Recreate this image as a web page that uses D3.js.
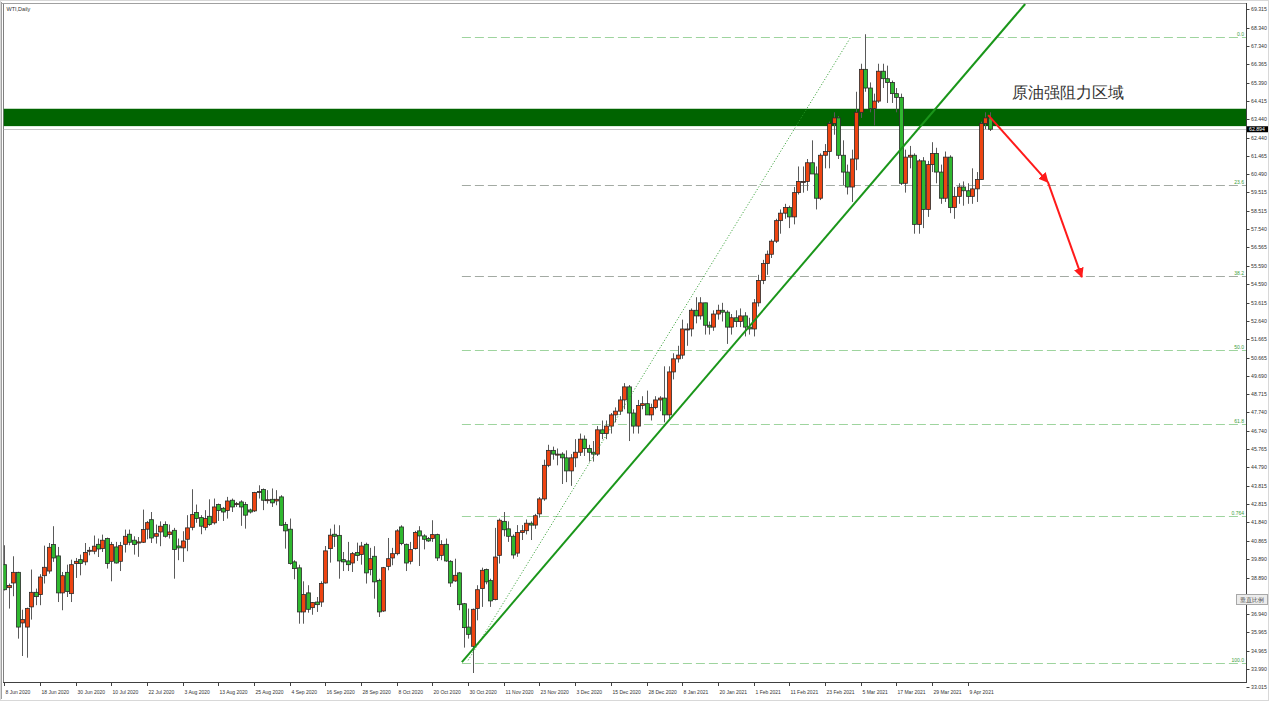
<!DOCTYPE html>
<html><head><meta charset="utf-8">
<script src="https://cdn.jsdelivr.net/npm/d3@7"></script>
<style>
html,body{margin:0;padding:0;background:#fff;}
svg{display:block;}
text{font-family:"Liberation Sans",Arial,sans-serif;}
</style></head>
<body>
<svg id="chart" width="1269" height="701"></svg>
<script>
// ---------------- DATA ----------------
const title = "WTI,Daily";
// daily candles, bar index 0 = 8 Jun 2020
const opens = [
39.58,38.35,38.60,39.17,36.46,36.24,37.32,38.10,37.98,38.99,
39.24,40.66,40.05,38.07,39.17,38.03,39.64,39.85,39.73,40.31,
40.30,40.67,40.44,40.98,39.76,40.53,39.76,40.67,41.21,40.89,
40.74,40.78,41.48,41.99,41.10,41.33,41.73,41.19,41.42,40.58,
40.48,40.94,41.58,42.37,42.10,41.58,42.17,41.82,42.80,42.60,
42.48,43.03,42.80,42.94,42.80,42.51,42.46,43.46,43.60,43.05,
43.08,42.99,43.21,41.73,41.48,39.73,39.41,37.05,38.07,37.28,
37.58,37.58,38.60,40.44,41.21,41.15,39.85,39.78,39.67,40.23,
40.12,40.67,39.32,40.03,38.74,37.10,39.49,39.94,40.17,41.60,
40.67,39.76,40.44,41.39,41.12,40.98,40.98,41.19,40.08,40.67,
39.76,38.71,39.14,37.49,36.24,35.21,37.23,38.30,39.32,38.74,
37.71,40.08,41.90,41.50,41.10,40.20,41.30,41.40,41.80,41.70,
42.30,43.10,44.90,45.70,45.50,45.50,45.30,44.60,45.30,45.60,
46.30,45.80,45.60,45.50,46.80,46.60,47.00,47.60,47.80,48.40,
49.10,47.70,47.00,48.10,48.20,47.60,48.00,48.40,48.50,47.60,
49.90,50.60,50.80,52.20,52.20,53.20,52.90,53.60,52.40,52.30,
53.00,53.20,53.10,52.30,52.80,52.60,52.90,52.30,52.20,53.60,
54.80,55.70,56.20,56.90,58.00,58.40,58.70,58.20,59.50,60.10,
60.10,61.10,60.50,59.20,61.50,61.70,63.20,63.50,61.50,60.60,
59.80,61.30,63.80,66.10,65.10,64.00,64.40,66.00,65.60,65.40,
64.80,64.60,60.00,61.40,61.50,57.80,61.20,58.60,61.00,61.60,
60.60,59.20,61.40,58.70,59.30,59.80,59.60,59.30,59.70,60.20,
63.20,63.50];
const highs = [
40.62,38.57,40.03,39.20,37.17,37.28,39.32,38.30,39.07,40.60,
40.74,41.64,40.53,39.19,39.58,39.85,39.94,40.12,40.74,40.53,
41.14,40.98,41.19,41.03,40.80,40.80,40.80,41.46,41.46,41.10,
41.06,42.53,41.92,42.40,41.73,41.90,41.90,41.73,41.55,40.98,
41.37,42.23,43.62,42.80,42.23,42.50,43.08,43.12,42.85,42.67,
43.21,43.12,42.94,43.03,42.94,42.58,43.48,43.83,43.66,43.57,
43.66,43.57,43.30,41.87,42.05,39.82,39.58,38.69,38.48,37.58,
37.85,38.69,40.58,41.51,41.73,41.69,40.26,40.80,40.26,40.76,
40.80,40.76,40.48,40.57,38.83,39.46,41.01,40.48,41.48,41.69,
40.71,40.80,41.39,41.64,41.21,41.06,41.96,41.24,40.89,40.98,
39.82,39.90,39.19,37.53,37.23,37.23,38.48,39.42,39.37,38.83,
41.55,42.05,42.40,41.90,41.20,41.70,41.70,42.00,41.90,42.30,
43.20,45.20,46.00,45.90,45.80,45.60,45.70,45.50,46.30,46.60,
46.50,46.00,46.20,47.00,47.30,47.30,47.70,48.00,48.60,49.30,
49.20,47.90,48.40,48.60,48.90,48.20,48.60,48.60,50.20,50.20,
50.90,51.30,52.70,52.50,53.30,53.90,53.90,53.60,52.60,53.20,
53.50,53.60,53.20,53.00,53.20,53.30,53.10,52.80,53.80,55.10,
55.90,56.40,57.00,58.10,58.60,58.90,58.80,59.80,60.90,60.90,
61.30,62.30,60.90,61.60,62.10,63.30,63.80,63.60,62.30,61.00,
61.80,64.90,66.40,67.98,65.40,64.80,66.40,66.40,66.30,65.50,
65.10,64.80,61.80,62.00,61.60,61.30,61.40,61.20,62.20,61.90,
61.00,61.70,61.50,59.80,60.00,60.10,60.00,60.80,60.60,63.30,
63.80,63.80];
const lows = [
38.20,37.23,37.89,35.62,34.69,34.60,36.64,37.41,37.41,38.57,
39.10,39.73,37.58,37.14,37.85,37.58,38.87,39.01,39.55,40.08,
40.14,39.99,40.26,39.37,38.69,39.64,39.24,40.23,40.62,40.12,
40.00,40.74,40.94,40.74,40.71,40.57,41.03,40.98,38.83,39.82,
39.73,40.30,41.42,41.82,41.21,41.42,41.66,41.73,41.92,41.92,
42.05,42.40,42.67,41.66,41.51,42.32,42.40,43.12,42.50,42.85,
42.67,42.76,41.66,40.44,39.58,38.80,36.42,36.42,37.01,36.90,
37.05,37.32,38.57,39.69,40.53,38.83,39.24,39.24,39.19,39.78,
39.58,38.57,39.01,37.76,36.78,37.05,39.28,39.55,40.08,40.62,
39.24,39.60,40.39,39.51,40.40,40.80,40.80,39.78,39.82,39.73,
38.39,38.66,37.14,35.14,35.62,33.78,36.60,37.32,38.53,37.32,
37.67,39.64,41.10,40.80,39.90,40.00,40.90,41.20,40.90,41.50,
42.10,43.00,44.80,45.20,44.90,43.90,44.00,43.80,44.80,45.40,
45.40,45.10,45.10,45.40,46.30,46.30,46.60,47.20,47.60,47.90,
46.20,46.60,46.60,47.90,47.60,47.30,47.90,47.80,47.20,47.30,
49.50,50.40,50.60,51.30,51.80,52.50,52.70,51.90,51.90,52.10,
52.70,52.60,51.40,51.90,52.30,52.30,51.80,51.90,51.80,53.40,
54.60,55.10,56.00,56.80,57.30,58.10,57.60,57.80,59.40,59.50,
59.60,60.60,58.60,59.10,60.80,60.80,62.60,61.30,59.90,59.40,
59.00,60.70,63.50,64.90,63.80,63.10,64.30,65.10,64.30,64.30,
63.80,59.90,59.50,60.80,57.30,57.30,57.60,58.20,60.60,60.00,
58.90,59.00,58.40,58.10,58.90,58.80,58.90,58.90,59.00,60.20,
62.90,62.80];
const closes = [
38.24,38.46,39.17,36.24,36.64,37.24,38.10,37.87,38.92,39.44,
40.51,39.94,38.07,38.99,38.14,39.58,39.76,39.64,40.23,40.35,
40.57,40.42,40.89,39.64,40.66,39.67,40.60,41.10,40.78,40.66,
40.80,41.46,41.83,41.01,41.24,41.64,41.10,41.33,40.39,40.48,
40.85,41.55,42.26,42.05,41.64,42.05,41.73,42.67,42.48,42.40,
42.99,42.67,42.85,42.67,42.23,42.40,43.44,43.50,43.03,43.06,
42.89,43.08,41.69,41.39,39.64,39.37,37.05,37.98,37.19,37.55,
37.44,38.57,40.32,41.16,41.10,39.78,39.73,39.58,40.17,40.07,
40.58,39.14,39.90,38.66,37.05,39.42,39.90,40.17,41.39,40.71,
39.67,40.39,41.30,41.12,40.94,40.85,41.19,39.94,40.66,39.78,
38.60,39.01,37.44,36.21,35.85,37.19,38.24,39.28,38.66,37.64,
39.99,41.96,41.45,41.10,40.10,41.30,41.40,41.80,41.70,42.20,
43.10,44.90,45.70,45.50,45.50,45.30,44.60,45.30,45.60,46.30,
45.80,45.60,45.50,46.80,46.60,47.00,47.60,47.80,48.40,49.10,
47.70,47.00,48.10,48.20,47.60,48.00,48.40,48.50,47.60,49.90,
50.60,50.80,52.20,52.20,53.20,52.90,53.60,52.40,52.30,53.00,
53.20,53.10,52.30,52.80,52.60,52.90,52.30,52.20,53.60,54.80,
55.70,56.20,56.90,58.00,58.40,58.70,58.20,59.50,60.10,60.10,
61.10,60.50,59.20,61.50,61.70,63.20,63.50,61.50,60.60,59.80,
61.30,63.80,66.10,65.10,64.00,64.40,66.00,65.60,65.40,64.80,
64.60,60.00,61.40,61.50,57.80,61.20,58.60,61.00,61.60,60.60,
59.20,61.40,58.70,59.30,59.80,59.60,59.30,59.70,60.20,63.20,
63.50,62.894];

// date axis labels, one every 8 bars
const dateLabels = ["8 Jun 2020","18 Jun 2020","30 Jun 2020","10 Jul 2020","22 Jul 2020","3 Aug 2020","13 Aug 2020","25 Aug 2020","4 Sep 2020","16 Sep 2020","28 Sep 2020","8 Oct 2020","20 Oct 2020","30 Oct 2020","11 Nov 2020","23 Nov 2020","3 Dec 2020","15 Dec 2020","28 Dec 2020","8 Jan 2021","20 Jan 2021","1 Feb 2021","11 Feb 2021","23 Feb 2021","5 Mar 2021","17 Mar 2021","29 Mar 2021","9 Apr 2021"];
const dateStep = 8;
// price axis labels
const priceLabels = [69.315,68.340,67.340,66.365,65.390,64.415,63.440,62.440,61.465,60.490,59.515,58.515,57.540,56.565,55.590,54.590,53.615,52.640,51.665,50.665,49.690,48.715,47.740,46.740,45.765,44.790,43.815,42.815,41.840,40.865,39.890,38.890,37.915,36.940,35.965,34.965,33.990,33.015];
const lastPrice = 62.894;

// annotations (bar index, price)
const resistanceZone = [63.06, 63.99];
const zoneLabel = "原油强阻力区域";
const fibHigh = 67.83, fibLow = 34.30, fibStartIndex = 102.6;
const fibRatios = [0, 0.236, 0.382, 0.5, 0.618, 0.764, 1.0];
const fibLabels = ["0.0","23.6","38.2","50.0","61.8","0.764","100.0"];
const trendLine = [[102.6, 34.36],[228.9, 69.60]];
const dottedLine = [[104.0, 34.46],[189.8, 67.83]];
const arrowPath = [[220.6, 63.65],[234.0, 60.06],[241.6, 54.98]];

// ---------------- LAYOUT ----------------
const W = 1269, H = 701;
const plot = {left: 3.5, right: 1246, top: 3.5, bottom: 682};
const svg = d3.select("#chart");

const x = d3.scaleLinear().domain([0, 221]).range([4.3, 4.3 + 221 * 4.46]);
const y = d3.scaleLinear().domain([33.015, 69.315]).range([687.3, 9.3]);

// window frame
svg.append("rect").attr("x",0).attr("y",0).attr("width",W).attr("height",H).attr("fill","#fff");
svg.append("rect").attr("x",0.5).attr("y",0.5).attr("width",W-1).attr("height",H-1).attr("fill","none").attr("stroke","#d8d8d8");
svg.append("line").attr("x1",1.5).attr("x2",1.5).attr("y1",2).attr("y2",H-2).attr("stroke","#a0a0a0");
svg.append("line").attr("x1",3.5).attr("x2",3.5).attr("y1",3).attr("y2",plot.bottom).attr("stroke","#808080");
svg.append("line").attr("x1",1).attr("x2",plot.right).attr("y1",3.5).attr("y2",3.5).attr("stroke","#a0a0a0");

svg.append("defs").append("clipPath").attr("id","clip")
  .append("rect").attr("x",plot.left).attr("y",plot.top).attr("width",plot.right-plot.left).attr("height",plot.bottom-plot.top);
svg.select("defs").append("marker").attr("id","arrow").attr("viewBox","0 0 10 10")
  .attr("refX",9).attr("refY",5).attr("markerWidth",5).attr("markerHeight",5).attr("orient","auto")
  .append("path").attr("d","M0,0 L10,5 L0,10 z").attr("fill","#ff1a1a");

const g = svg.append("g").attr("clip-path","url(#clip)");

// title
svg.append("text").attr("x",6.5).attr("y",11).attr("font-size",5.5).attr("fill","#333").text(title);

// fib dashed levels
const fibY = r => y(fibHigh - r * (fibHigh - fibLow));
fibRatios.forEach((r, i) => {
  const yy = Math.round(fibY(r)) + 0.5;
  g.append("line").attr("x1", x(fibStartIndex)).attr("x2", plot.right).attr("y1", yy).attr("y2", yy)
    .attr("stroke", (i===1||i===2) ? "#a3aaa3" : "#9ed49e").attr("stroke-width",1).attr("stroke-dasharray","9,4");
  g.append("text").attr("x", plot.right - 2).attr("y", yy - 1.5).attr("text-anchor","end")
    .attr("font-size",5).attr("fill","#3d9e3d").text(fibLabels[i]);
});

// resistance band
g.append("rect").attr("x",plot.left).attr("width",plot.right-plot.left)
  .attr("y", y(resistanceZone[1])).attr("height", y(resistanceZone[0]) - y(resistanceZone[1]))
  .attr("fill","#006400");
// last price line
g.append("line").attr("x1",plot.left).attr("x2",plot.right)
  .attr("y1",Math.round(y(lastPrice))+0.5).attr("y2",Math.round(y(lastPrice))+0.5).attr("stroke","#c8c8c8");

// candles
const bars = d3.range(opens.length).map(i => ({i, o: opens[i], h: highs[i], l: lows[i], c: closes[i]}));
const bw = 3;
const cg = g.append("g");
cg.selectAll("line.wick").data(bars).join("line").attr("class","wick")
  .attr("x1", d => Math.round(x(d.i)) + 0.5).attr("x2", d => Math.round(x(d.i)) + 0.5)
  .attr("y1", d => y(d.h)).attr("y2", d => y(d.l)).attr("stroke","#5a5a5a").attr("stroke-width",1);
cg.selectAll("rect.body").data(bars).join("rect").attr("class","body")
  .attr("x", d => Math.round(x(d.i)) + 0.5 - bw/2 - 0.5)
  .attr("y", d => y(Math.max(d.o, d.c)))
  .attr("width", bw + 1)
  .attr("height", d => Math.max(1, Math.abs(y(d.o) - y(d.c))))
  .attr("fill", d => d.c >= d.o ? "#ee4411" : "#2fb82f")
  .attr("stroke","#2a2a2a").attr("stroke-width",0.8);

// trend lines
const lineGen = d3.line().x(d => x(d[0])).y(d => y(d[1]));
g.append("path").attr("d", lineGen(dottedLine)).attr("fill","none")
  .attr("stroke","#2a9a2a").attr("stroke-width",1).attr("stroke-dasharray","1,2");
g.append("path").attr("d", lineGen(trendLine)).attr("fill","none")
  .attr("stroke","#1a961a").attr("stroke-width",2);

// red arrows
for (let k = 0; k < arrowPath.length - 1; k++) {
  svg.append("line").attr("x1", x(arrowPath[k][0])).attr("y1", y(arrowPath[k][1]))
    .attr("x2", x(arrowPath[k+1][0])).attr("y2", y(arrowPath[k+1][1]))
    .attr("stroke","#ff1a1a").attr("stroke-width",2).attr("marker-end","url(#arrow)");
}

// zone label
svg.append("text").attr("x",1012).attr("y",98).attr("font-size",15.5)
  .attr("font-family","'Noto Sans CJK SC',sans-serif").attr("fill","#333").text(zoneLabel);

// right price axis
svg.append("line").attr("x1",plot.right+0.5).attr("x2",plot.right+0.5).attr("y1",3).attr("y2",plot.bottom).attr("stroke","#404040");
const ya = svg.append("g");
priceLabels.forEach(p => {
  const yy = Math.round(y(p)) + 0.5;
  ya.append("line").attr("x1",plot.right+0.5).attr("x2",plot.right+3.5).attr("y1",yy).attr("y2",yy).attr("stroke","#404040");
  ya.append("text").attr("x",plot.right+5).attr("y",yy+1.8).attr("font-size",5.2).attr("fill","#333").text(p.toFixed(3));
});
// last price tag
const ly = y(lastPrice);
svg.append("rect").attr("x",plot.right+1).attr("y",ly-3).attr("width",21).attr("height",6).attr("fill","#000");
svg.append("text").attr("x",plot.right+3).attr("y",ly+1.8).attr("font-size",5.2).attr("fill","#fff").text(lastPrice.toFixed(3));
// scale button
svg.append("rect").attr("x",1236.5).attr("y",594.5).attr("width",31).attr("height",10).attr("fill","#ececec").attr("stroke","#a8a8a8");
svg.append("text").attr("x",1252).attr("y",602).attr("text-anchor","middle").attr("font-size",6)
  .attr("font-family","'Noto Sans CJK SC',sans-serif").attr("fill","#444").text("垂直比例");

// bottom date axis
svg.append("line").attr("x1",3).attr("x2",plot.right+1).attr("y1",plot.bottom+0.5).attr("y2",plot.bottom+0.5).attr("stroke","#404040");
dateLabels.forEach((lab, k) => {
  const xx = Math.round(x(k * dateStep)) + 0.5;
  svg.append("line").attr("x1",xx).attr("x2",xx).attr("y1",plot.bottom+0.5).attr("y2",plot.bottom+4).attr("stroke","#404040");
  svg.append("text").attr("x",xx+1).attr("y",plot.bottom+12).attr("font-size",5).attr("fill","#333").text(lab);
});
</script>
</body></html>
